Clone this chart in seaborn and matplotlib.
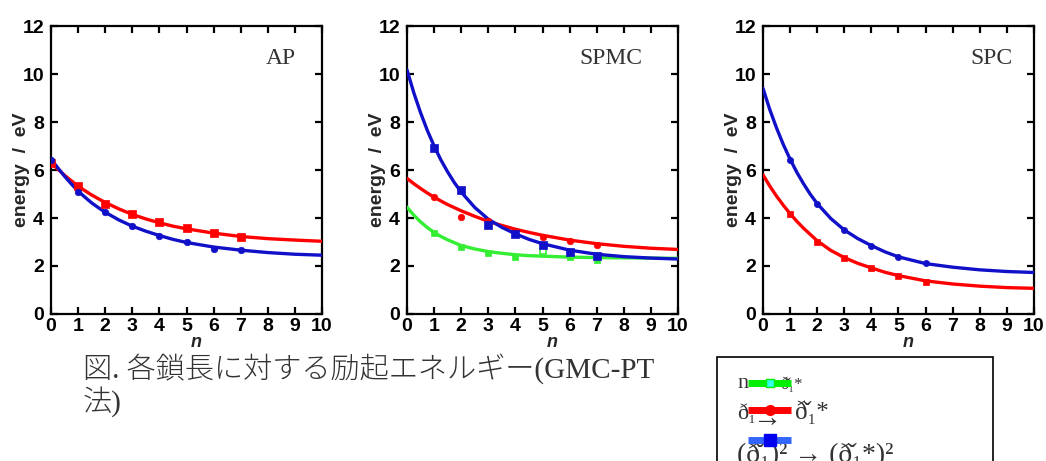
import matplotlib
matplotlib.use("Agg")
import matplotlib.pyplot as plt
from matplotlib import font_manager
from matplotlib.lines import Line2D
from matplotlib.patches import Rectangle
import pandas as pd
import seaborn as sns

# ---------------------------------------------------------------- data
# chain length n at which the fitted curves are sampled
n_fit = [0, 0.25, 0.5, 0.75, 1, 1.25, 1.5, 1.75, 2, 2.5, 3, 3.5, 4, 4.5, 5, 6, 7, 8, 9, 10]

# AP
ap_n = [0, 1, 2, 3, 4, 5, 6, 7]
ap_red = [6.28, 5.32, 4.60, 4.15, 3.82, 3.57, 3.38, 3.20]
ap_blue = [6.42, 5.10, 4.24, 3.66, 3.26, 2.98, 2.70, 2.68]
ap_red_fit = [6.30, 6.04, 5.78, 5.55, 5.33, 5.14, 4.96, 4.80, 4.65, 4.38, 4.15, 3.96,
              3.80, 3.66, 3.55, 3.37, 3.23, 3.14, 3.08, 3.03]
ap_blue_fit = [6.45, 6.09, 5.74, 5.42, 5.12, 4.87, 4.63, 4.43, 4.24, 3.92, 3.66, 3.45,
               3.27, 3.11, 2.98, 2.79, 2.66, 2.56, 2.49, 2.45]

# SPMC
spmc_n = [1, 2, 3, 4, 5, 6, 7]
spmc_red = [4.89, 4.06, 3.89, 3.46, 3.22, 3.06, 2.88]
spmc_blue = [6.93, 5.17, 3.71, 3.32, 2.88, 2.60, 2.43]
spmc_green_n = [1, 2, 3, 4, 6, 7]
spmc_green = [3.36, 2.80, 2.56, 2.39, 2.36, 2.25]
spmc_green_open_n = [5]
spmc_green_open = [2.64]
spmc_red_fit = [5.65, 5.43, 5.23, 5.04, 4.87, 4.71, 4.56, 4.43, 4.30, 4.07, 3.86, 3.69,
                3.53, 3.40, 3.28, 3.08, 2.93, 2.82, 2.74, 2.69]
spmc_blue_fit = [10.17, 9.22, 8.39, 7.65, 7.00, 6.42, 5.92, 5.47, 5.08, 4.44, 3.95, 3.61,
                 3.34, 3.11, 2.93, 2.66, 2.49, 2.39, 2.33, 2.29]
spmc_green_fit = [4.45, 4.12, 3.84, 3.60, 3.40, 3.23, 3.09, 2.97, 2.85, 2.71, 2.60, 2.53,
                  2.47, 2.43, 2.41, 2.37, 2.35, 2.34, 2.33, 2.32]

# SPC
spc_n = [1, 2, 3, 4, 5, 6]
spc_blue = [6.42, 4.58, 3.50, 2.83, 2.36, 2.11]
spc_red = [4.17, 3.01, 2.35, 1.93, 1.58, 1.35]
spc_blue_fit = [9.40, 8.52, 7.75, 7.06, 6.45, 5.90, 5.42, 4.98, 4.60, 3.98, 3.50, 3.14,
                2.85, 2.59, 2.38, 2.10, 1.95, 1.84, 1.77, 1.73]
spc_red_fit = [5.80, 5.33, 4.91, 4.53, 4.18, 3.86, 3.57, 3.31, 3.05, 2.65, 2.35, 2.11,
               1.92, 1.74, 1.60, 1.38, 1.25, 1.16, 1.10, 1.07]

panel_names = ["AP", "SPMC", "SPC"]
x_ticks = list(range(0, 11))
y_ticks = list(range(0, 13, 2))

caption_line1 = "図. 各鎖長に対する励起エネルギー(GMC-PT"
caption_line2 = "法)"

legend_row1 = ["n", "ð\u030c\u2081*"]
legend_row2 = ["ð\u2081", "\u2192", "ð\u030c\u2081*"]
legend_row3 = "(ð\u030c\u2081)\u00b2 \u2192 (ð\u030c\u2081*)\u00b2"

# ---------------------------------------------------------------- style
RED = "#ff0000"
BLUE = "#1010c8"
GREEN = "#33ee33"

sns.set_theme(style="ticks")
installed = {f.name for f in font_manager.fontManager.ttflist}
tick_family = "Liberation Sans Narrow" if "Liberation Sans Narrow" in installed else "Liberation Sans"
plt.rcParams["font.family"] = ["Liberation Sans", "DejaVu Sans"]
serif_fam = ["Liberation Serif", "DejaVu Serif"]
cap_fam = ["Liberation Serif", "Noto Sans CJK JP", "DejaVu Sans"]

W, H = 1046, 461
fig = plt.figure(figsize=(W / 100, H / 100), dpi=100)
fig.patch.set_facecolor("white")


def fx(x):
    return x / W


def fy(y):
    return 1 - y / H


panels = {
    "AP": dict(
        curves=[(ap_red_fit, RED), (ap_blue_fit, BLUE)],
        points=[(ap_n, ap_red, RED, "s", 26, True), (ap_n, ap_blue, BLUE, "o", 22, True)],
        label_x=0.905,
    ),
    "SPMC": dict(
        curves=[(spmc_green_fit, GREEN), (spmc_red_fit, RED), (spmc_blue_fit, BLUE)],
        points=[
            (spmc_green_n, spmc_green, GREEN, "s", 24, True),
            (spmc_green_open_n, spmc_green_open, GREEN, "s", 24, False),
            (spmc_n, spmc_red, RED, "o", 22, True),
            (spmc_n, spmc_blue, BLUE, "s", 30, True),
        ],
        label_x=0.868,
    ),
    "SPC": dict(
        curves=[(spc_red_fit, RED), (spc_blue_fit, BLUE)],
        points=[(spc_n, spc_red, RED, "s", 24, True), (spc_n, spc_blue, BLUE, "o", 20, True)],
        label_x=0.922,
    ),
}

lefts = [51, 407, 763]
ax_w, ax_top, ax_bot = 271, 26, 314

for name, left in zip(panel_names, lefts):
    spec = panels[name]
    ax = fig.add_axes([fx(left), fy(ax_bot), ax_w / W, (ax_bot - ax_top) / H])
    for fit_vals, col in spec["curves"]:
        df = pd.DataFrame({"n": n_fit, "E": fit_vals})
        sns.lineplot(data=df, x="n", y="E", color=col, lw=2.4, ax=ax, zorder=3)
    for xs, ys, col, mk, size, filled in spec["points"]:
        df = pd.DataFrame({"n": xs, "E": ys})
        if filled:
            sns.scatterplot(data=df, x="n", y="E", color=col, marker=mk, s=size,
                            edgecolor=col, linewidth=0.5, ax=ax, zorder=4)
        else:
            sns.scatterplot(data=df, x="n", y="E", facecolor="white", marker=mk, s=size,
                            edgecolor=col, linewidth=1.2, ax=ax, zorder=4)

    ax.set_xlim(0, 10)
    ax.set_ylim(0, 12)
    ax.set_xticks(x_ticks)
    ax.set_yticks(y_ticks)
    for sp in ax.spines.values():
        sp.set_visible(True)
        sp.set_linewidth(1.6)
        sp.set_color("black")
    ax.tick_params(axis="both", direction="in", length=5, width=1.6,
                   top=True, right=True, colors="black", labelsize=14)
    ax.tick_params(axis="x", pad=3)
    ax.tick_params(axis="y", pad=5)
    for lab in ax.get_xticklabels() + ax.get_yticklabels():
        lab.set_fontweight("bold")
        lab.set_family(tick_family)

    ax.set_xlabel("n", fontsize=13, fontweight="bold", fontstyle="italic")
    ax.xaxis.set_label_coords(0.535, -0.068)
    ax.set_ylabel("energy  /  eV", fontsize=14, fontweight="bold", family=tick_family)
    ax.yaxis.label.set_va("center")
    ax.yaxis.set_label_coords(-0.108, 0.5)

    ax.text(spec["label_x"], 0.887, name, transform=ax.transAxes, ha="right", va="center",
            fontsize=17, color="#333333", family=serif_fam)

# caption below the panels
fig.text(fx(83), fy(369), caption_line1, fontsize=21, color="#333333", fontweight="light",
         family=cap_fam, va="center", ha="left")
fig.text(fx(83), fy(402), caption_line2, fontsize=21, color="#333333", fontweight="light",
         family=cap_fam, va="center", ha="left")

# legend box (runs past the lower edge of the figure)
fig.patches.append(Rectangle((fx(717), fy(475)), (993 - 717) / W, (475 - 357) / H,
                             transform=fig.transFigure, facecolor="white",
                             edgecolor="black", linewidth=1.2, zorder=1))

txt_kw = dict(family=serif_fam, color="#333333", va="center", ha="left", zorder=2)
fig.text(fx(737), fy(383), legend_row1[0], fontsize=16, **txt_kw)
fig.text(fx(780), fy(385), legend_row1[1], fontsize=12, **txt_kw)
fig.text(fx(737), fy(414), legend_row2[0], fontsize=16, **txt_kw)
fig.text(fx(753), fy(419), legend_row2[1], fontsize=21, **txt_kw)
fig.text(fx(795), fy(412), legend_row2[2], fontsize=18, **txt_kw)
fig.text(fx(737), fy(455), legend_row3, fontsize=20, **txt_kw)

handles = [
    (383, "#00ee00", "s", "#33ffee", "#00ee00", 6),
    (410, RED, "o", RED, RED, 7),
    (440, "#3366ff", "s", "#0000ee", "#0000ee", 8),
]
for yy, lc, mk, mfc, mec, ms in handles:
    fig.lines.append(Line2D([fx(748), fx(791)], [fy(yy), fy(yy)], transform=fig.transFigure,
                            color=lc, lw=5, solid_capstyle="butt", zorder=3))
    fig.lines.append(Line2D([fx(770)], [fy(yy)], transform=fig.transFigure, marker=mk,
                            markersize=ms, markerfacecolor=mfc, markeredgecolor=mec,
                            markeredgewidth=1, linestyle="none", zorder=4))

fig.savefig("out.png", dpi=100, facecolor="white")
